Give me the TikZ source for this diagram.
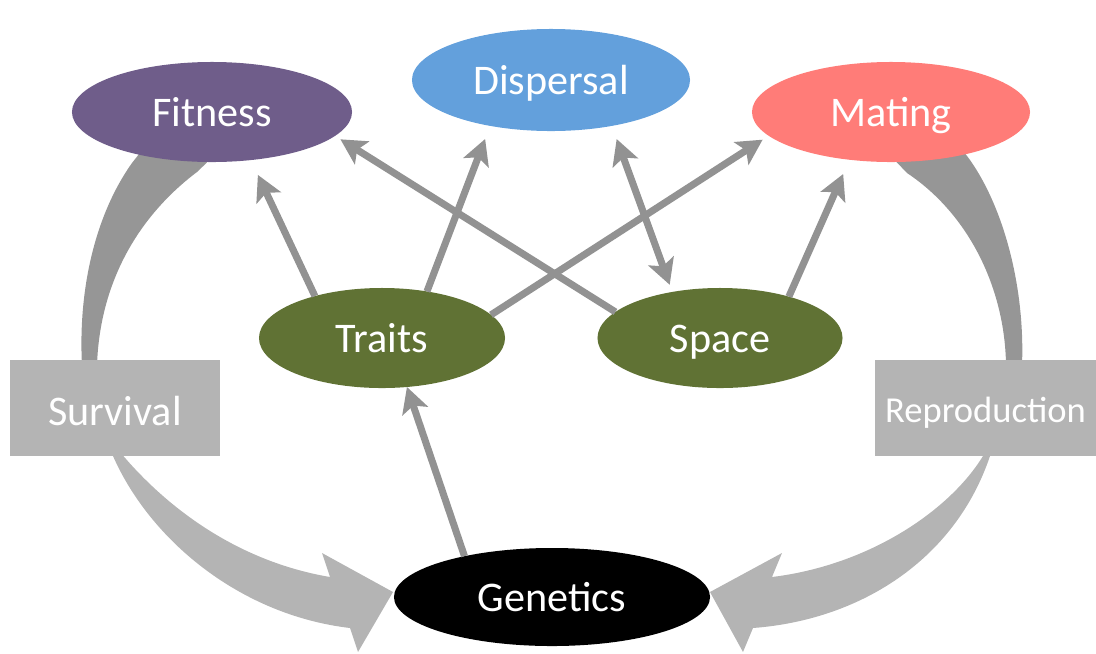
\documentclass[tikz,border=0pt]{standalone}
\usepackage{fontspec}
\setmainfont{Carlito}
\usetikzlibrary{arrows.meta,shapes.geometric}
\definecolor{fitcol}{RGB}{111,93,138}
\definecolor{dispcol}{RGB}{99,160,220}
\definecolor{matcol}{RGB}{255,124,120}
\definecolor{greencol}{RGB}{96,114,52}
\definecolor{boxgray}{RGB}{180,180,180}
\definecolor{bandgray}{RGB}{150,150,150}
\definecolor{linkgray}{RGB}{146,146,146}
\begin{document}
\begin{tikzpicture}[x=0.025cm, y=-0.025cm,
    oval/.style={ellipse, inner sep=0pt, outer sep=0pt, text=white, minimum height=2.5cm, text height=20pt, text depth=0pt, font=\fontsize{30}{36}\selectfont},
    box/.style={rectangle, fill=boxgray, inner sep=0pt, outer sep=0pt, text=white, minimum height=2.4cm, text depth=0pt},
    link/.style={draw=linkgray, line width=5pt, -{Stealth[length=18pt,width=19pt,inset=4pt]}}]
    \useasboundingbox (0,0) rectangle (1096,653);

    % Frecce curve
    \fill[bandgray] (150,140) -- (132,163) .. controls (95,215) and (78,290) .. (82,365)
        -- (97,365) .. controls (100,280) and (140,215) .. (197,172) -- (220,150) -- cycle;
    \fill[boxgray] (113,452) -- (113,456) .. controls (150,540) and (240,615) .. (350,628)
        -- (358,652) -- (393,592) -- (322,553) -- (330,577)
        .. controls (230,560) and (160,500) .. (120,452) -- cycle;
    \fill[bandgray] (955,140) -- (970,160) .. controls (1005,210) and (1025,290) .. (1022,365)
        -- (1006,365) .. controls (1005,290) and (970,215) .. (907,173) -- (885,150) -- cycle;
    \fill[boxgray] (983,452) -- (990,452) -- (990,456) .. controls (955,560) and (860,620) .. (753,628)
        -- (743,652) -- (710,592) -- (782,553) -- (772,577)
        .. controls (870,565) and (950,510) .. (983,456) -- cycle;

    % Livello superiore
    \node[oval, fill=fitcol, minimum width=7cm, text height=21pt] (fitness) at (212,112) {Fitness};
    \node[oval, fill=dispcol, minimum width=6.95cm, minimum height=2.55cm, text height=21pt] (dispersal) at (551,80) {Dispersal};
    \node[oval, fill=matcol, minimum width=6.95cm, text height=21pt] (mating) at (891,112) {Mating};

    % Livello intermedio
    \node[oval, fill=greencol, minimum width=6.15cm] (traits) at (382,338) {Traits};
    \node[oval, fill=greencol, minimum width=6.125cm] (space) at (720,338) {Space};
    \node[box, minimum width=5.25cm, text height=25.5pt, font=\fontsize{30}{36}\selectfont] (survival) at (115,408) {Survival};
    \node[box, minimum width=5.525cm, text height=21.3pt, font=\fontsize{26}{31}\selectfont] (reproduction) at (985.5,408) {Reproduction};

    % Livello inferiore
    \node[oval, fill=black, minimum width=7.9cm, minimum height=2.45cm] (genetics) at (552,597) {Genetics};

    % Collegamenti
    \draw[link, shorten >=0.41cm] (traits.148) -- (fitness.-51);
    \draw[link, shorten >=0.35cm] (traits.46) -- (dispersal.217);
    \draw[link, shorten >=0.18cm] (traits.12.5) -- (mating.191);
    \draw[link, shorten >=0.16cm] (space.166) -- (fitness.-11);
    \draw[link, {Stealth[length=18pt,width=19pt,inset=4pt]}-{Stealth[length=18pt,width=19pt,inset=4pt]}, shorten <=0.35cm, shorten >=0.19cm] (dispersal.-37) -- (space.136.5);
    \draw[link, shorten >=0.39cm] (space.31) -- (mating.229);
    \draw[link] (genetics.155) -- (traits.-63);
\end{tikzpicture}
\end{document}
